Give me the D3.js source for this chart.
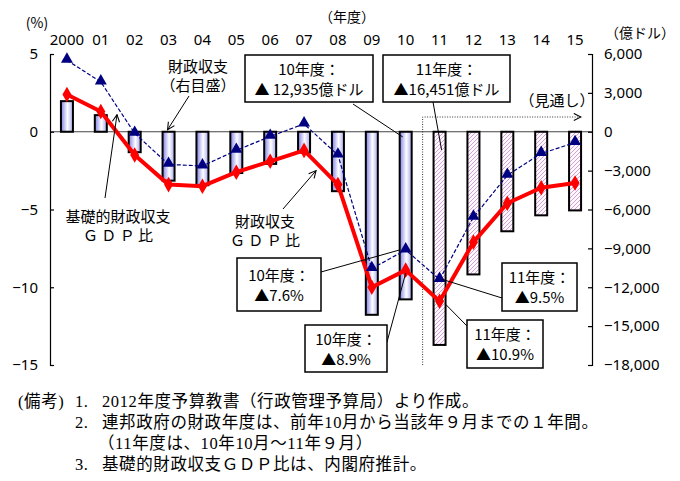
<!DOCTYPE html>
<html>
<head>
<meta charset="utf-8">
<script src="https://d3js.org/d3.v7.min.js"></script>
<style>
body{margin:0;background:#fff;}
text{font-family:"Noto Sans CJK JP","Noto Sans",sans-serif;fill:#000;}
.note{font-family:"Liberation Serif","Noto Sans CJK JP",serif;font-size:16.5px;letter-spacing:0.6px;}
</style>
</head>
<body>
<div id="chart"></div>
<script>
// fiscal years, 2011 onward is a projection
var years=["2000","2001","2002","2003","2004","2005","2006","2007","2008","2009","2010","2011","2012","2013","2014","2015"];
var yearLabels=["2000","01","02","03","04","05","06","07","08","09","10","11","12","13","14","15"];
// fiscal balance, 億ドル (right axis)
var balance=[2362,1282,-1578,-3775,-4127,-3183,-2482,-1607,-4586,-14127,-12935,-16451,-11010,-7680,-6450,-6070];
// fiscal balance / GDP, %
var balanceGdp=[2.4,1.3,-1.5,-3.4,-3.5,-2.6,-1.9,-1.2,-3.4,-10.0,-8.9,-10.9,-7.1,-4.6,-3.6,-3.3];
// primary balance / GDP, %
var primaryGdp=[4.6,3.2,-0.1,-2.1,-2.2,-1.2,-0.3,0.5,-1.5,-8.8,-7.6,-9.5,-5.5,-2.8,-1.4,-0.7];
var leftTicks=[5,0,-5,-10,-15];
var rightTicks=[6000,3000,0,-3000,-6000,-9000,-12000,-15000,-18000];
var notes=[
	["(備考)","1.","2012年度予算教書（行政管理予算局）より作成。"],
	["","2.","連邦政府の財政年度は、前年10月から当該年９月までの１年間。"],
	["","","（11年度は、10年10月～11年９月）"],
	["","3.","基礎的財政収支ＧＤＰ比は、内閣府推計。"]
];

var W=680,H=481;
var svg=d3.select("#chart").append("svg")
	.attr("width",W).attr("height",H)
	.style("display","block");
svg.append("rect").attr("width",W).attr("height",H).attr("fill","#fff");

var x=d3.scaleBand().domain(years).range([50,592]);
var yL=d3.scaleLinear().domain([-15,5]).range([365,54]);
var yR=d3.scaleLinear().domain([-18000,6000]).range([365,54]);
function xc(d){return x(d)+x.bandwidth()/2;}

var defs=svg.append("defs");
var grad=defs.append("linearGradient").attr("id","barGrad")
	.attr("x1","0").attr("x2","1").attr("y1","0").attr("y2","0");
grad.append("stop").attr("offset","0").attr("stop-color","#8080e8");
grad.append("stop").attr("offset","0.55").attr("stop-color","#ffffff");
grad.append("stop").attr("offset","1").attr("stop-color","#a8a8f0");
var pat=defs.append("pattern").attr("id","hatch")
	.attr("patternUnits","userSpaceOnUse").attr("width",4).attr("height",4);
pat.append("rect").attr("width",4).attr("height",4).attr("fill","#fff8fd");
pat.append("path").attr("d","M-1,1 l2,-2 M0,4 l4,-4 M3,5 l2,-2")
	.attr("stroke","#d0a0d8").attr("stroke-width",1);
defs.append("marker").attr("id","arr")
	.attr("markerUnits","userSpaceOnUse")
	.attr("viewBox","0 0 10 10").attr("refX",9).attr("refY",5)
	.attr("markerWidth",9).attr("markerHeight",9).attr("orient","auto")
	.append("path").attr("d","M1,1 L9,5 L1,9")
	.attr("fill","none").attr("stroke","#000").attr("stroke-width",1.2);

// zero line
svg.append("line")
	.attr("x1",50).attr("x2",592)
	.attr("y1",yL(0)).attr("y2",yL(0))
	.attr("stroke","#444").attr("stroke-width",1);

// projection marker
var px=x("2011");
svg.append("path")
	.attr("d","M"+px+","+yL(-15)+" V117 H581")
	.attr("fill","none").attr("stroke","#333")
	.attr("stroke-width",1).attr("stroke-dasharray","1,1.5")
	.attr("marker-end","url(#arr)");

// bars
var bw=12;
svg.append("g").selectAll("rect")
	.data(years)
	.enter()
	.append("rect")
	.attr("x",function(d){return xc(d)-bw/2;})
	.attr("y",function(d,i){return Math.min(yR(balance[i]),yR(0));})
	.attr("width",bw)
	.attr("height",function(d,i){return Math.abs(yR(balance[i])-yR(0));})
	.attr("fill",function(d){return +d>=2011?"url(#hatch)":"url(#barGrad)";})
	.attr("stroke","#000").attr("stroke-width",2);

// lines
var line=d3.line().x(function(d,i){return xc(years[i]);}).y(function(d){return yL(d);});
svg.append("path").datum(balanceGdp)
	.attr("d",line).attr("fill","none")
	.attr("stroke","#ff0000").attr("stroke-width",4).attr("stroke-linejoin","round");
svg.append("path").datum(primaryGdp)
	.attr("d",line).attr("fill","none")
	.attr("stroke","#000080").attr("stroke-width",1.2).attr("stroke-dasharray","4,2");
svg.append("g").selectAll("path")
	.data(balanceGdp).enter().append("path")
	.attr("d",d3.symbol().type(d3.symbolDiamond).size(70))
	.attr("transform",function(d,i){return "translate("+xc(years[i])+","+yL(d)+")";})
	.attr("fill","#ff0000");
svg.append("g").selectAll("path")
	.data(primaryGdp).enter().append("path")
	.attr("d",d3.symbol().type(d3.symbolTriangle).size(62))
	.attr("transform",function(d,i){return "translate("+xc(years[i])+","+(yL(d)-1)+")";})
	.attr("fill","#000080");

// axes
var la=svg.append("g").attr("transform","translate(50,0)")
	.call(d3.axisLeft(yL).tickValues(leftTicks).tickSize(-4).tickPadding(12));
var ra=svg.append("g").attr("transform","translate(592,0)")
	.call(d3.axisRight(yR).tickValues(rightTicks).tickSize(-4).tickPadding(12)
		.tickFormat(d3.format(",")));
[la,ra].forEach(function(a){
	a.selectAll("text").style("font-size","15px").style("font-family","Noto Sans,sans-serif");
	a.selectAll("path,line").attr("stroke","#000").attr("stroke-width",1.2);
});
var ta=svg.append("g").attr("transform","translate(0,45)")
	.call(d3.axisTop(x).tickSize(0).tickPadding(0)
		.tickFormat(function(d,i){return yearLabels[i];}));
ta.select(".domain").remove();
ta.selectAll("text").style("font-size","15px").style("font-family","Noto Sans,sans-serif");

// unit labels
function label(t,xp,yp,size,anchor){
	return svg.append("text").text(t).attr("x",xp).attr("y",yp)
		.attr("text-anchor",anchor||"middle").style("font-size",(size||15)+"px");
}
label("(%)",37,28,14);
label("（年度）",347,22,14);
label("（億ドル）",640,38,14);
label("（見通し）",557,106,15);

// series labels with arrows
function arrow(x1,y1,x2,y2){
	svg.append("line").attr("x1",x1).attr("y1",y1).attr("x2",x2).attr("y2",y2)
		.attr("stroke","#000").attr("stroke-width",1).attr("marker-end","url(#arr)");
}
label("財政収支",198,72);
label("（右目盛）",198,91);
arrow(189,96,xc("2003")-1,yR(0)-2);
label("基礎的財政収支",118,222);
label("Ｇ Ｄ Ｐ 比",118,241);
arrow(105,198,117,yL(1.1));
label("財政収支",265,227);
label("Ｇ Ｄ Ｐ 比",265,246);
arrow(283,209,xc("2007")+12,yL(-2.5));

// callout boxes
function callout(x0,y0,w,h,l1,l2,fx,fy,tx,ty){
	svg.append("line").attr("x1",fx).attr("y1",fy).attr("x2",tx).attr("y2",ty)
		.attr("stroke","#000").attr("stroke-width",1);
	svg.append("rect").attr("x",x0).attr("y",y0).attr("width",w).attr("height",h)
		.attr("fill","#fff").attr("stroke","#000").attr("stroke-width",1.5);
	label(l1,x0+w/2,y0+h/2-4);
	label(l2,x0+w/2,y0+h/2+16);
}
callout(245,55,128,47,"10年度：","▲ 12,935億ドル",353,104,xc("2010")-3,yR(-400));
callout(383,55,127,47,"11年度：","▲16,451億ドル",433,102,xc("2011")+2,yR(-1400));
callout(237,258,84,53,"10年度：","▲7.6%",321,272,xc("2010")-6,yL(-7.6));
callout(305,325,82,47,"10年度：","▲8.9%",387,342,xc("2010"),yL(-8.9)+3);
callout(502,263,75,48,"11年度：","▲9.5%",502,298,xc("2011")+3,yL(-9.5));
callout(467,320,76,48,"11年度：","▲10.9%",467,326,xc("2011")+6,yL(-10.9)+3);

// notes
var ng=svg.append("g");
notes.forEach(function(n,i){
	var yy=407+i*21;
	ng.append("text").attr("class","note").attr("x",18).attr("y",yy).text(n[0]);
	ng.append("text").attr("class","note").attr("x",75).attr("y",yy).text(n[1]);
	ng.append("text").attr("class","note").attr("x",n[1]?102:98).attr("y",yy).text(n[2]);
});
</script>
</body>
</html>
